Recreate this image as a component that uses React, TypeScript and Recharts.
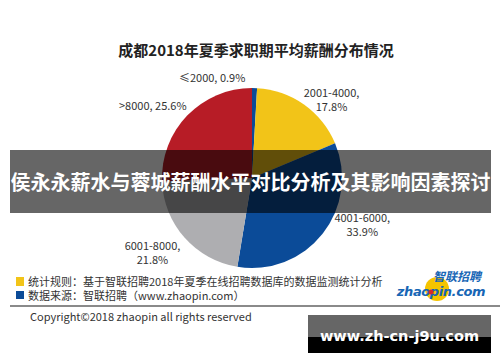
import React from 'react';
import { PieChart, Pie, Cell } from 'recharts';

const categories = ['≤2000', '2001-4000', '4001-6000', '6001-8000', '>8000'];
const shares = [0.9, 17.8, 33.9, 21.8, 25.6];
const sliceColors = ['#0B4B98', '#F2C418', '#0B4B98', '#AEAEB1', '#B71C26'];

const title = '成都2018年夏季求职期平均薪酬分布情况';
const bannerText = '侯永永薪水与蓉城薪酬水平对比分析及其影响因素探讨';
const note1 = '统计规则：基于智联招聘2018年夏季在线招聘数据库的数据监测统计分析';
const note2 = '数据来源：智联招聘（www.zhaopin.com）';
const copyright = 'Copyright©2018 zhaopin all rights reserved';
const watermark = 'www.zh-cn-j9u.com';

const data = categories.map((c, i) => ({ name: c, value: shares[i] }));

// label placement tweaks (style only)
const labelNudge: [number, number][] = [
  [-43, 10],
  [16, 12],
  [24, -21],
  [-17, 2],
  [-20, 4],
];
const twoLine = [false, true, true, true, false];

const FONT = '"Noto Sans CJK SC", "Noto Sans", sans-serif';
const RAD = Math.PI / 180;

const renderLabel = (props: any) => {
  const { cx, cy, midAngle, outerRadius, index, name, value } = props;
  const r = outerRadius + 20;
  const x = cx + r * Math.cos(-midAngle * RAD) + labelNudge[index][0];
  const y = cy + r * Math.sin(-midAngle * RAD) + labelNudge[index][1];
  if (twoLine[index]) {
    return (
      <g>
        <text x={x} y={y - 3} textAnchor="middle" fontSize={11} fill="#333" fontFamily={FONT}>{`${name},`}</text>
        <text x={x} y={y + 11} textAnchor="middle" fontSize={11} fill="#333" fontFamily={FONT}>{`${value}%`}</text>
      </g>
    );
  }
  return (
    <text x={x} y={y} dy={4} textAnchor="middle" fontSize={11} fill="#333" fontFamily={FONT}>
      {`${name}, ${value}%`}
    </text>
  );
};

export default function App() {
  return (
    <div style={{ position: 'absolute', left: 0, top: 0, width: 500, height: 362, background: '#fff', overflow: 'hidden', fontFamily: FONT }}>
      <div style={{ position: 'absolute', left: 0, top: 40, width: 512, textAlign: 'center', fontSize: 15, fontWeight: 700, color: '#222', lineHeight: '20px' }}>
        {title}
      </div>
      <div style={{ position: 'absolute', left: 0, top: 0 }}>
        <PieChart width={500} height={362}>
          <Pie
            data={data}
            dataKey="value"
            nameKey="name"
            cx={247}
            cy={173}
            outerRadius={90}
            startAngle={90}
            endAngle={-270}
            stroke="none"
            label={renderLabel}
            labelLine={false}
            isAnimationActive={false}
          >
            {data.map((d, i) => (
              <Cell key={d.name} fill={sliceColors[i]} />
            ))}
          </Pie>
        </PieChart>
      </div>
      {/* notes */}
      <div style={{ position: 'absolute', left: 16, top: 277, width: 8, height: 9, background: '#F2C418' }} />
      <div style={{ position: 'absolute', left: 28, top: 274, fontSize: 11, color: '#333', lineHeight: '14px', whiteSpace: 'nowrap' }}>{note1}</div>
      <div style={{ position: 'absolute', left: 16, top: 291, width: 8, height: 8, background: '#0B4B98' }} />
      <div style={{ position: 'absolute', left: 28, top: 288, fontSize: 11, color: '#333', lineHeight: '14px', whiteSpace: 'nowrap' }}>{note2}</div>
      <div style={{ position: 'absolute', left: 10, top: 305, width: 490, height: 2, background: '#8a8a8a' }} />
      <div style={{ position: 'absolute', left: 30, top: 309, fontSize: 11, color: '#333', lineHeight: '14px', whiteSpace: 'nowrap' }}>{copyright}</div>
      {/* logo */}
      <svg style={{ position: 'absolute', left: 0, top: 0 }} width={500} height={362}>
        <circle cx={437} cy={289} r={12} fill="#F5C400" />
        <text x={481} y={281} textAnchor="end" fontSize={12} fontWeight={700} fontStyle="italic" fill="#1766B5" fontFamily={FONT}>智联招聘</text>
        <text x={441} y={296} textAnchor="middle" fontSize={13} fontWeight={700} fontStyle="italic" fill="#1766B5" fontFamily='"DejaVu Sans", sans-serif' letterSpacing={-0.4}>zhaopin.com</text>
        <circle cx={431} cy={292} r={2.5} fill="#D8262E" />
      </svg>
      {/* banner overlay */}
      <div style={{ position: 'absolute', left: 10, top: 150, width: 481, height: 63, background: 'rgba(0,0,0,0.6)', color: '#fff', fontSize: 20, fontWeight: 700, textAlign: 'center', lineHeight: '63px', whiteSpace: 'nowrap' }}>
        {bannerText}
      </div>
      {/* watermark */}
      <div style={{ position: 'absolute', left: 308, top: 315, width: 183, height: 38, background: 'linear-gradient(#666 0, #666 58%, #000 58%, #000 100%)', color: '#fff', fontSize: 14.5, fontWeight: 700, textAlign: 'center', lineHeight: '42px', fontFamily: '"DejaVu Sans", sans-serif', whiteSpace: 'nowrap' }}>
        {watermark}
      </div>
    </div>
  );
}
